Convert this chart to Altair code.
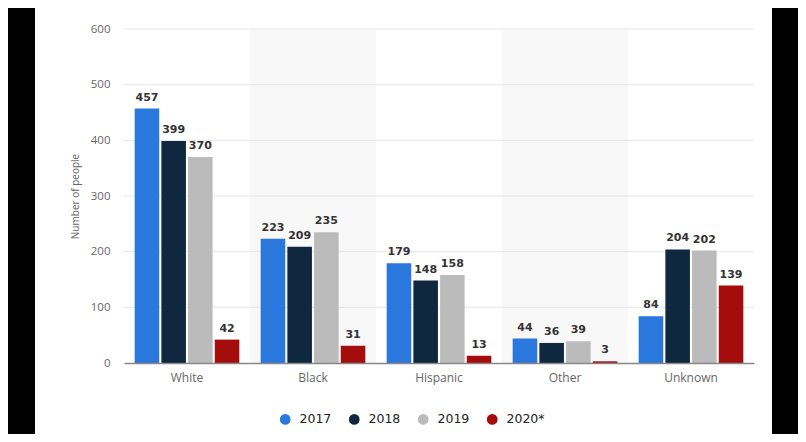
import altair as alt
import pandas as pd

categories = ["White", "Black", "Hispanic", "Other", "Unknown"]
years = ["2017", "2018", "2019", "2020*"]
v2017 = [457, 223, 179, 44, 84]
v2018 = [399, 209, 148, 36, 204]
v2019 = [370, 235, 158, 39, 202]
v2020 = [42, 31, 13, 3, 139]
colors = ["#2a77dd", "#0f2840", "#bbbbbb", "#a50d0d"]
shaded = ["Black", "Other"]
grid_vals = [100, 200, 300, 400, 500, 600]

rows = []
for y, vals in zip(years, [v2017, v2018, v2019, v2020]):
    for c, v in zip(categories, vals):
        rows.append({"cat": c, "year": y, "value": v})
df = pd.DataFrame(rows)

W, H = 630, 334

xenc = alt.X("cat:N", sort=categories, title=None,
             scale=alt.Scale(paddingInner=0, paddingOuter=0),
             axis=alt.Axis(labelFont="Open Sans", labelFontSize=12, labelColor="#666666",
                           ticks=False, domainColor="#888888", domainWidth=1.5,
                           labelPadding=9, labelAngle=0, zindex=1))

panel = alt.Chart(pd.DataFrame({"a": [0]})).mark_rect(color="white").encode(
    x=alt.value(-89), x2=alt.value(648), y=alt.value(-30), y2=alt.value(420))

bands = alt.Chart(pd.DataFrame({"cat": shaded})).mark_rect(color="#f8f8f8").encode(
    x=xenc, y=alt.value(1), y2=alt.value(H))

grid = alt.Chart(pd.DataFrame({"v": grid_vals})).mark_rule(color="#e6e6e6", strokeWidth=1).encode(
    y=alt.Y("v:Q"))

yenc = alt.Y("value:Q", title="Number of people",
             scale=alt.Scale(domain=[0, 600]),
             axis=alt.Axis(values=[0, 100, 200, 300, 400, 500, 600], grid=False, domain=False,
                           ticks=False, labelFont="Open Sans", labelFontSize=11.5,
                           labelColor="#666666", labelPadding=14,
                           titleFont="Open Sans", titleFontSize=10, titleColor="#666666",
                           titleFontWeight="normal", titlePadding=10, zindex=1))

base = alt.Chart(df).encode(
    x=xenc,
    xOffset=alt.XOffset("year:N", sort=years,
                        scale=alt.Scale(paddingInner=0.08, paddingOuter=0.4)),
)

bars = base.mark_bar().encode(
    y=yenc,
    color=alt.Color("year:N", sort=years,
                    scale=alt.Scale(domain=years, range=colors),
                    legend=alt.Legend(title=None, orient="none", direction="horizontal",
                                      legendX=155, legendY=384, symbolType="circle",
                                      symbolSize=115, symbolStrokeWidth=0,
                                      labelFont="DejaVu Sans", labelFontSize=12.5,
                                      labelColor="#222222", labelOffset=8,
                                      columnPadding=16, zindex=1)),
)

labels = base.mark_text(font="DejaVu Sans", fontSize=11, fontWeight="bold",
                        color="#333333", dy=-8, baseline="alphabetic").encode(
    y=alt.Y("value:Q"), text=alt.Text("value:Q"))

chart = alt.layer(panel, bands, grid, bars, labels).properties(
    width=W, height=H,
    autosize=alt.AutoSizeParams(type="none"),
    padding={"left": 116, "top": 21, "right": 44, "bottom": 71},
    background="black",
).configure_view(stroke=None)

chart.save("out.html", embed_options={"renderer": "svg", "actions": False})
